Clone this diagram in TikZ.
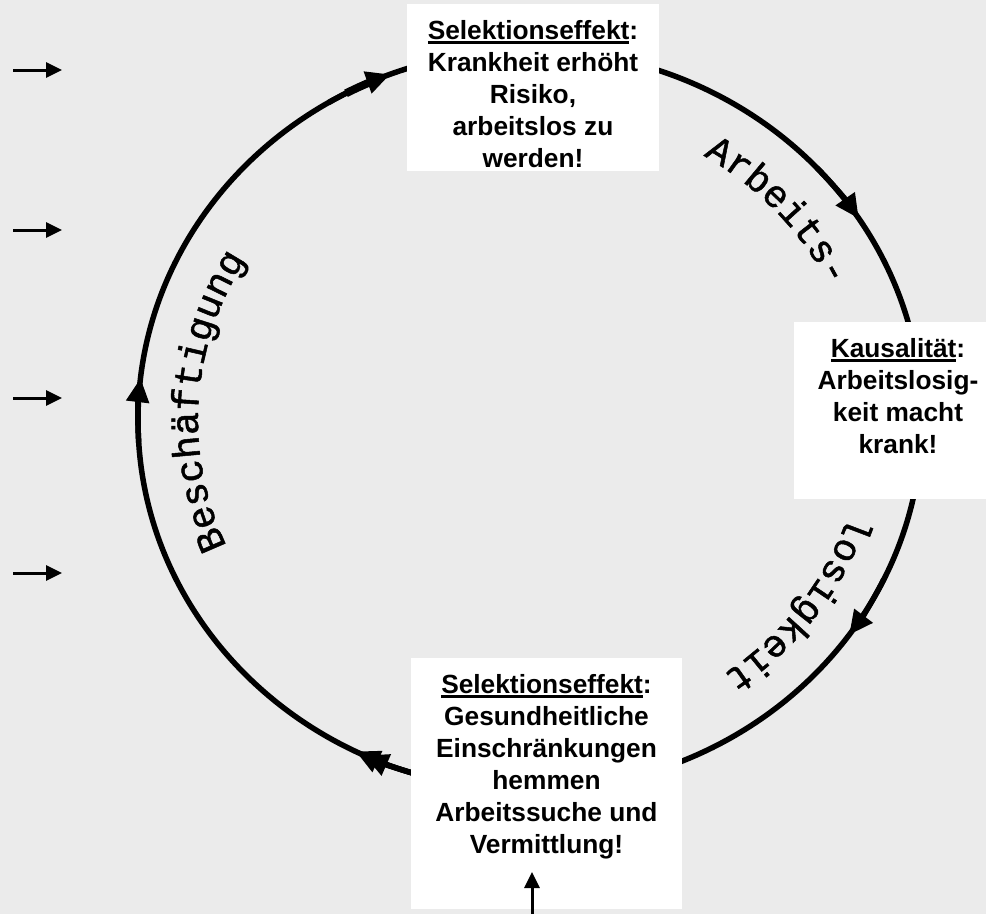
\documentclass[tikz,border=0pt]{standalone}
\usepackage{fontspec}
\setmainfont{Liberation Sans}
\newfontfamily\monofnt[FakeBold=1.3]{Liberation Mono}
\usetikzlibrary{arrows.meta,decorations.text}
\definecolor{bgc}{HTML}{EBEBEB}
\newcommand\boxfont{\fontsize{26.3pt}{32pt}\selectfont\bfseries}
\newcommand\arcfont{\monofnt\fontsize{38.5pt}{40pt}\selectfont}
\newsavebox\ulbox
\newcommand\ulw[1]{\sbox\ulbox{#1}\rlap{\rule[-4.5pt]{\wd\ulbox}{2.4pt}}\usebox\ulbox}
\begin{document}
\begin{tikzpicture}[x=1pt,y=1pt,
  ring/.style={line width=5.5pt},
  ringtip/.style={line width=5.5pt,-{Triangle[length=24pt,width=22pt]}},
  side/.style={line width=3pt,-{Triangle[length=16pt,width=15pt]}},
  box/.style={fill=white,draw=none,inner sep=0pt,outer sep=0pt,anchor=north west},
  boxtext/.style={font=\boxfont,align=center,inner sep=0pt,anchor=north},
  arctext/.style={decorate,decoration={text along path,text align=left,text={|\arcfont|#1}}}
]
\useasboundingbox (0,0) rectangle (986,-914);
\fill[bgc] (0,0) rectangle (986,-914);
\coordinate (c) at (530,-420);
% the cycle
\draw[ring] (c) ellipse [x radius=392pt, y radius=370pt];
\foreach \t in {110.9,33,-35.5,173.5,245,243.6}{
  \draw[ringtip,shift={(c)}] (\t+10:392pt and 370pt) arc[start angle=\t+10,end angle=\t,x radius=392pt,y radius=370pt];
}
\draw[line width=8pt,shift={(c)}] (118:392pt and 370pt) arc[start angle=118,end angle=113,x radius=392pt,y radius=370pt];
% texts along the cycle
\path[arctext={Arbeits-},shift={(c)}] (58.5:332pt and 310pt) arc[start angle=58.5,end angle=-20,x radius=332pt,y radius=310pt];
\path[arctext={losigkeit},shift={(c)}] (-17.5:334pt and 312pt) arc[start angle=-17.5,end angle=-100,x radius=334pt,y radius=312pt];
\path[arctext={Beschäftigung},shift={(c)}] (204:332pt and 310pt) arc[start angle=204,end angle=110,x radius=332pt,y radius=310pt];
% boxes
\node[box,minimum width=252pt,minimum height=167pt] (topbox) at (407,-4) {};
\node[boxtext] (toptext) at (533,-19.8) {\ulw{Selektionseffekt}:\\Krankheit erhöht\\Risiko,\\arbeitslos zu\\werden!};
\node[box,minimum width=192pt,minimum height=177pt] (rightbox) at (794,-322) {};
\node[boxtext] (righttext) at (898,-338) {\ulw{Kausalität}:\\Arbeitslosig-\\keit macht\\krank!};
\node[box,minimum width=271pt,minimum height=251pt] (botbox) at (411,-658) {};
\node[boxtext] (bottext) at (546.5,-674) {\ulw{Selektionseffekt}:\\Gesundheitliche\\Einschränkungen\\hemmen\\Arbeitssuche und\\Vermittlung!};
% bottom arrow
\coordinate (b0) at (532,-914);
\coordinate (b1) at (532,-872);
\draw[side] (b0) -- (b1);
% left arrows
\foreach \y [count=\i] in {70,230,398,573}{
  \coordinate (l\i a) at (13,-\y);
  \coordinate (l\i b) at (62,-\y);
  \draw[side] (l\i a) -- (l\i b);
}
\end{tikzpicture}
\end{document}
